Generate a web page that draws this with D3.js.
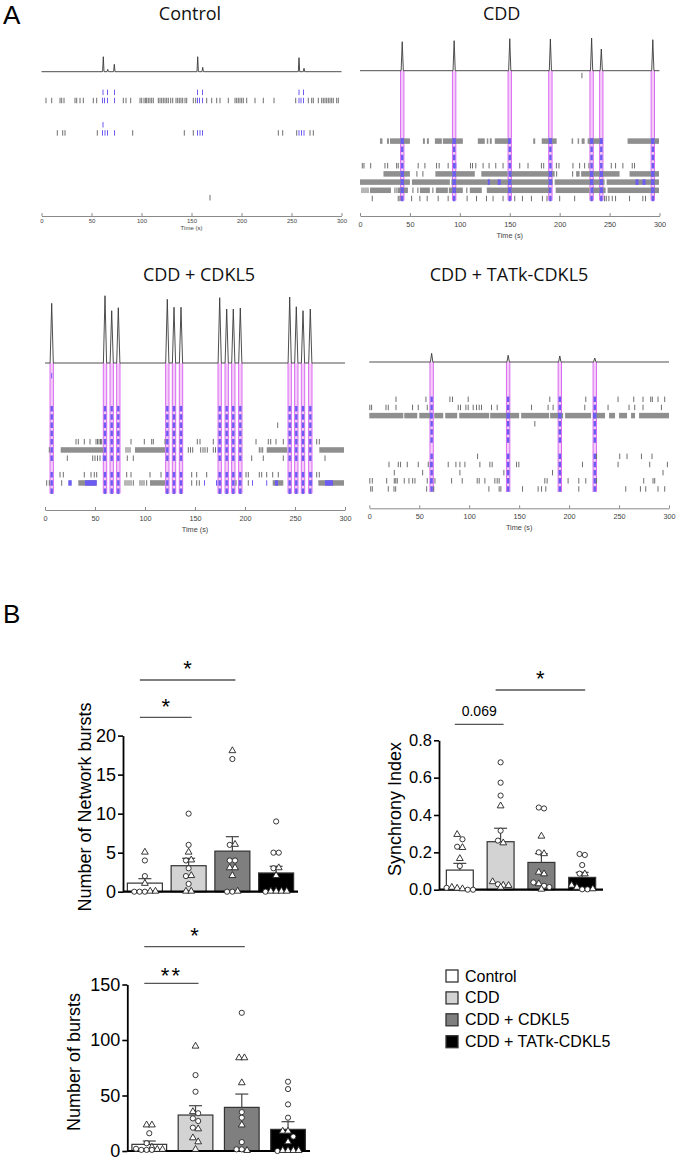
<!DOCTYPE html>
<html>
<head>
<meta charset="utf-8">
<script src="https://cdn.jsdelivr.net/npm/d3@7"></script>
<style>
  body { margin: 0; background: #fff; }
  svg { display: block; }
</style>
</head>
<body>
<svg id="fig" width="676" height="1160"></svg>
<script>
// ================================
// Data
// ================================
const groups = ['Control', 'CDD', 'CDD + CDKL5', 'CDD + TATk-CDKL5'];

// Panel A: network trace peaks [time (s), amplitude], spike rows, dense runs [row, t0, t1]
const ctrlPeaks = [[61.8, 0.214], [66.2, 0.034], [72.8, 0.106], [156.2, 0.214], [161.2, 0.063], [257.5, 0.2], [262.5, 0.049]];
const ctrlBurstWin = [[60, 67.5], [72, 74], [155, 162.5], [256.5, 263.5]];
const ctrlSpikes = [
  [61.5, 66, 73, 156, 161, 257.5, 262],
  [4.5, 10.2, 18.5, 20.2, 22.5, 33.5, 35.2, 38.5, 41.8, 51.8, 55.2, 61, 63, 66, 73, 81.8, 84.5, 89.2,
   98.5, 100.2, 102.5, 104.2, 105.2, 106.8, 108.5, 110.2, 111.8, 116.8, 118.5, 120.2, 121.8, 123.5,
   125.2, 126.8, 129.2, 131.2, 134.5, 136.2, 137.8, 139.5, 141.2, 143.5, 145.2, 151.8, 154.2, 156,
   158, 161, 165.2, 170.2, 175.2, 178.5, 186.8, 193.5, 195.2, 196.8, 198.5, 200.2, 201.8, 205.2,
   213.5, 221.8, 232.5, 254.2, 257.5, 259.5, 262, 266.8, 270.2, 271.8, 276.8, 280.2, 281.8, 283.5,
   285.2, 286.8, 288.5, 290.2, 291.8, 295.2, 296.8],
  [], [],
  [61.5],
  [15.8, 21.2, 23.5, 55.8, 61, 63.5, 66, 73, 91.2, 142.8, 151.8, 156, 158.5, 161, 236.8, 241.2,
   255.2, 257.5, 260, 262.5, 268.5, 271.8],
  [], [], [], [], [], [], [],
  [168.5]
];

const cddPeaks = [[42.3, 0.414], [94.3, 0.429], [150, 0.457], [190.7, 0.453], [232, 0.467], [241.7, 0.31], [293.3, 0.443]];
const cddBurstRows = [8, 9, 10, 11, 12, 13, 14, 15];
const cddSpikes = [
  [222.3], [], [], [], [], [], [], [], [], [], [],
  [2.3, 4, 10.7, 25, 27.7, 36.7, 38.3, 58.3, 65, 76.7, 79.3, 88.3, 96, 110.7, 112.7, 116, 123.3, 129.3,
   136, 143.3, 160, 168.3, 181.7, 184, 196.7, 199.3, 213.3, 220, 225, 229.3, 251.7, 256, 263.3, 272.7, 275],
  [57, 63, 197, 213],
  [],
  [2, 4, 6, 8, 35, 37, 53, 58, 73, 107],
  [12.3, 38.3, 40, 51.7, 60, 67.3, 78.3, 88.3, 107.3, 116.7, 126.7, 133.3, 143.3, 155, 162.7, 171.7,
   182.7, 187.3, 200, 215, 245, 246.7, 249.3, 252.7, 256, 270, 283.3, 286]
];
const cddDense = [
  [8, 20, 22.5], [8, 27, 29], [8, 30, 50], [8, 63, 65], [8, 67, 69], [8, 75, 82], [8, 83, 103],
  [8, 118, 125], [8, 127, 128.5], [8, 130, 132], [8, 135, 150], [8, 173.5, 175.5], [8, 182, 197],
  [8, 212, 213.5], [8, 218, 219.5], [8, 222, 225], [8, 228, 243], [8, 268, 299.5],
  [12, 23.5, 50], [12, 75.5, 93], [12, 95, 115], [12, 121.5, 148], [12, 150, 195], [12, 216.5, 220],
  [12, 221.5, 260], [12, 270, 299.5],
  [13, 0, 50], [13, 52, 90], [13, 91.5, 193], [13, 195, 245], [13, 247, 299.5],
  [14, 10, 31], [14, 38, 48], [14, 60, 70], [14, 76, 88], [14, 89, 103], [14, 110, 122],
  [14, 127, 190], [14, 196, 230], [14, 232, 246], [14, 248, 299.5]
];
const cddBlueRuns = [[13, 128, 130], [13, 138, 141], [13, 276, 279], [13, 283, 286]];

const cdkl5Peaks = [[6.7, 0.853], [60, 0.961], [66.7, 0.747], [73.3, 0.79], [122.3, 0.91], [129, 0.796],
  [136, 0.796], [174.7, 0.933], [181.7, 0.771], [188.3, 0.771], [195.3, 0.786], [244.7, 0.943],
  [251.3, 0.804], [258, 0.747], [265.3, 0.771]];
const cdkl5BurstRows = [4, 5, 6, 7, 8, 9, 10, 12, 13, 14];
const cdkl5Spikes = [
  [6.7], [], [], [], [], [],
  [232.7],
  [],
  [31, 33.3, 39.3, 45, 51, 52.5, 54, 55.5, 56.7, 86, 99.3, 106.7, 108.3, 120, 152.3, 155, 168.3, 211,
   223.3, 225.7, 231, 238.3, 271.7, 274.3],
  [4.3, 81, 83, 85, 143.3, 145.5, 147.7, 155.7, 158, 160, 162.3, 168.3, 170.5, 173.3, 214.3, 216, 217.7],
  [22.3, 47.7, 50, 52.5, 55, 58.3, 82.3, 88.3, 206.7, 218.3, 238.3, 280],
  [],
  [15, 18.3, 39.3, 46, 49.3, 51.7, 81.7, 86, 105, 116, 146.7, 151.7, 161.7, 201, 203.3, 214.3, 216.7,
   221.7, 227.7, 233.3, 266.7, 271.7, 274.3],
  [1.7, 4.3, 16.7, 80, 82, 84, 86, 88.3, 95, 97, 99, 101.7, 146.7, 151.7, 154.3, 191, 194.3, 203.3, 266.7],
  []
];
const cdkl5Dense = [[9, 15.7, 58.3], [9, 90, 120], [9, 221.7, 242.3], [9, 274.3, 299],
  [13, 33.3, 51.7], [13, 105, 120], [13, 227.7, 238.3], [13, 273.3, 299]];
const cdkl5BlueRuns = [[13, 23.3, 26.7], [13, 40, 51.7], [13, 159, 160], [13, 171, 172.3], [13, 207, 208],
  [13, 221.2, 222.2], [13, 230, 233], [13, 280, 288]];

const tatkPeaks = [[62.4, 0.124], [139, 0.096], [190.7, 0.086], [225.7, 0.057]];
const tatkBurstRows = [0, 1, 2, 3, 4, 5, 7, 8, 9, 10, 11];
const tatkSpikes = [
  [26.7, 56.7, 80.7, 83.3, 99, 180.7, 216.7, 249, 264.7, 274, 281.7, 283.3, 289, 295.7],
  [0.5, 2.3, 16.7, 19, 26.7, 43.3, 49, 58, 89, 91.3, 96.7, 99, 104, 107.3, 110, 112.3, 122.3, 128,
   162.4, 179, 184, 215.7, 239, 260, 265.7, 274, 292.4],
  [],
  [165.7],
  [], [], [],
  [108.4, 227.5, 250.7, 258, 272.4, 283],
  [19.7, 29, 31.3, 38, 49, 59, 61.4, 79, 86.7, 90.7, 95.7, 110.7, 120.7, 123, 147.4, 149.7, 213.4,
   249, 280.7, 298.4],
  [25, 53.4, 90.7, 134.7, 183.4, 294],
  [0.5, 3, 17.4, 25, 26.5, 28, 35, 39.7, 43.4, 45.7, 58, 61.4, 65.7, 82.4, 93, 108, 110, 115.7, 125.7,
   128, 130, 175.7, 178, 199, 209.7, 216.7, 227.5, 274.7, 284, 285.7],
  [1.4, 3, 19, 24.7, 26.4, 57.4, 64.5, 119.7, 130, 131.7, 153.4, 169, 172.4, 176.7, 209.7, 256.7,
   271.4, 276.7, 289, 295.7]
];
const tatkDense = [[2, 0, 34], [2, 35, 48], [2, 50, 63], [2, 65, 74], [2, 76, 88], [2, 90, 120],
  [2, 121, 150], [2, 152, 180], [2, 181, 194], [2, 196, 222], [2, 224, 236], [2, 240, 246],
  [2, 250, 258], [2, 262, 266], [2, 270, 300]];

// Panel B: means, SEMs and individual points (circles / triangles)
const netMean = [1.1, 3.33, 5.2, 2.4];
const netSem = [0.57, 0.95, 1.85, 0.86];
const netCircles = [[4, 2, 0, 0, 0], [10, 6, 4, 3, 2, 1], [17, 6, 4, 4, 0, 0], [9, 5, 5, 3, 0]];
const netTriangles = [[5, 1, 0, 0], [5, 4, 2, 0, 0], [18, 6, 3, 3, 2, 0], [3, 2, 0, 0, 0, 0]];
const netTicks = [0, 5, 10, 15, 20];
const netSig = [[0, 1, '*'], [0, 2, '*']];

const syncMean = [0.105, 0.257, 0.146, 0.066];
const syncSem = [0.036, 0.072, 0.047, 0.027];
const syncCircles = [[0.27, 0.23, 0.127, 0.01, 0.0, 0.0], [0.682, 0.573, 0.504, 0.316, 0.263, 0.029],
  [0.44, 0.435, 0.2, 0.039, 0.021, 0.014], [0.191, 0.186, 0.132, 0.086, 0.002, 0.002]];
const syncTriangles = [[0.293, 0.223, 0.164, 0.005, 0.002, 0.01], [0.446, 0.248, 0.04, 0.021, 0.02, 0.01],
  [0.284, 0.19, 0.082, 0.091, 0.029, 0.0], [0.082, 0.021, 0.01, 0.002]];
const syncTicks = [0, 0.2, 0.4, 0.6, 0.8];
const syncSig = [[0, 1, '0.069'], [1, 3, '*']];

const burstMean = [6, 32.4, 39.3, 19.5];
const burstSem = [3, 8.4, 12, 6.9];
const burstCircles = [[16, 7, 1, 1, 1, 2], [68.4, 53.4, 34, 27, 29.4, 21], [124.5, 35, 30, 8, 1.5, 1.5],
  [62.4, 55.8, 42, 30, 13, 0]];
const burstTriangles = [[23, 23, 1, 1, 3], [94, 35, 19.5, 11.4, 7.8, 1], [83.5, 83.5, 61, 23, 0],
  [17.4, 17.4, 7.8, 0, 0, 0, 0]];
const burstTicks = [0, 50, 100, 150];
const burstSig = [[0, 1, '**'], [0, 2, '*']];

// ================================
// Setup
// ================================
const svg = d3.select('#fig');
const ARIAL = "'Liberation Sans', Arial, sans-serif";
const TITLE_FONT = "'Open Sans', 'Noto Sans', sans-serif";
const BAND = 1.7;       // half width of burst band (s)
const TICK_H = 5.5;
const GRAY = '#6e6e6e', DENSE = '#8f8f8f', BLUE = '#6c5cf2', PINK = '#f5ccf8', MAGENTA = '#d65ef2';
const groupFill = ['#ffffff', '#d3d3d3', '#7f7f7f', '#000000'];

// panel letters
svg.append('text').attr('x', 3).attr('y', 24).attr('font-family', ARIAL)
  .attr('font-size', 26).text('A');
svg.append('text').attr('x', 3).attr('y', 623).attr('font-family', ARIAL)
  .attr('font-size', 26).text('B');

// ================================
// Raster panels
// ================================
function drawRaster(p) {
  const x = d3.scaleLinear().domain([0, 300]).range([p.x0, p.x1]);
  const rowY = d3.scaleLinear().domain([0, 1]).range([p.y0, p.y0 + p.dy]);
  const amp = d3.scaleLinear().domain([0, 1]).range([p.base, p.base - 70]);
  const wins = p.windows || p.peaks.map(d => [d[0] - BAND, d[0] + BAND]);
  const inBurst = t => wins.some(w => t >= w[0] && t <= w[1]);
  const g = svg.append('g');

  // pink burst bands
  if (p.bandBottom) {
    const b = g.append('g').selectAll('g').data(p.peaks).join('g');
    b.append('rect')
      .attr('x', d => x(d[0] - BAND))
      .attr('width', d => x(d[0] + BAND) - x(d[0] - BAND))
      .attr('y', p.base)
      .attr('height', p.bandBottom - p.base)
      .attr('fill', PINK);
    [-BAND, BAND].forEach(off => {
      b.append('line')
        .attr('x1', d => x(d[0] + off)).attr('x2', d => x(d[0] + off))
        .attr('y1', p.base).attr('y2', p.bandBottom)
        .attr('stroke', MAGENTA).attr('stroke-width', 0.9);
    });
  }

  // dense spike runs
  const dense = p.dense || [];
  g.append('g').selectAll('rect').data(dense).join('rect')
    .attr('x', d => x(d[1]))
    .attr('width', d => x(d[2]) - x(d[1]))
    .attr('y', d => rowY(d[0]) - TICK_H / 2)
    .attr('height', TICK_H)
    .attr('fill', DENSE);

  // blue parts of dense runs (overlap with bursts + extra runs)
  const blue = [];
  dense.forEach(d => wins.forEach(w => {
    const a = Math.max(d[1], w[0]), e = Math.min(d[2], w[1]);
    if (e > a) blue.push([d[0], a, e]);
  }));
  (p.blueRuns || []).forEach(d => blue.push(d));
  g.append('g').selectAll('rect').data(blue).join('rect')
    .attr('x', d => x(d[1]))
    .attr('width', d => Math.max(1, x(d[2]) - x(d[1])))
    .attr('y', d => rowY(d[0]) - TICK_H / 2)
    .attr('height', TICK_H)
    .attr('fill', BLUE);

  // single spikes
  const spikes = p.spikes.flatMap((ts, i) => ts.map(t => ({ t, i })));
  g.append('g').selectAll('line').data(spikes).join('line')
    .attr('x1', d => x(d.t)).attr('x2', d => x(d.t))
    .attr('y1', d => rowY(d.i) - TICK_H / 2)
    .attr('y2', d => rowY(d.i) + TICK_H / 2)
    .attr('stroke', d => inBurst(d.t) ? BLUE : GRAY)
    .attr('stroke-width', 1);

  // channels taking part in each network burst
  const part = (p.burstRows || []).flatMap(i => p.peaks.map(d => ({ t: d[0], i })));
  g.append('g').selectAll('rect').data(part).join('rect')
    .attr('x', d => x(d.t) - 1.2)
    .attr('width', 2.4)
    .attr('y', d => rowY(d.i) - TICK_H / 2)
    .attr('height', TICK_H)
    .attr('fill', BLUE);

  // population trace
  const pts = [[0, 0]];
  p.peaks.slice().sort((a, b) => a[0] - b[0])
    .forEach(([t, a]) => pts.push([t - p.hw, 0], [t, a], [t + p.hw, 0]));
  pts.push([300, 0]);
  g.append('path')
    .datum(pts)
    .attr('fill', 'none')
    .attr('stroke', '#3a3a3a')
    .attr('stroke-width', 0.9)
    .attr('d', d3.line().x(d => x(d[0])).y(d => amp(d[1])));

  // time axis
  const ax = g.append('g')
    .attr('transform', `translate(0,${p.axisY})`)
    .call(d3.axisBottom(x).tickValues(d3.range(0, 301, 50)).tickSize(-3).tickSizeOuter(0));
  ax.select('.domain').attr('stroke', '#8a8a8a');
  ax.selectAll('.tick line').attr('stroke', '#8a8a8a');
  ax.selectAll('.tick text')
    .attr('y', p.lblY).attr('dy', 0)
    .attr('font-size', p.fs)
    .attr('font-family', ARIAL)
    .attr('fill', '#444');
  g.append('text')
    .attr('x', (p.x0 + p.x1) / 2)
    .attr('y', p.axisY + p.timeY)
    .attr('text-anchor', 'middle')
    .attr('font-family', ARIAL)
    .attr('font-size', p.fs)
    .attr('fill', '#444')
    .text('Time (s)');

  // title
  g.append('text')
    .attr('x', p.tx).attr('y', p.ty)
    .attr('text-anchor', 'middle')
    .attr('font-family', TITLE_FONT)
    .attr('font-size', 18)
    .attr('fill', '#111')
    .text(p.title);
}

drawRaster({ title: groups[0], tx: 190, ty: 19.5, x0: 41.5, x1: 341.5, base: 71.7, y0: 92.4, dy: 8.1,
  axisY: 216, lblY: 6.5, timeY: 14, fs: 6, hw: 0.7,
  peaks: ctrlPeaks, windows: ctrlBurstWin, spikes: ctrlSpikes });
drawRaster({ title: groups[1], tx: 501.7, ty: 19.5, x0: 360, x1: 659.5, base: 70.7, y0: 75.5, dy: 8.2,
  axisY: 216, lblY: 11, timeY: 22, fs: 7.3, hw: 1.1, bandBottom: 200.5,
  peaks: cddPeaks, spikes: cddSpikes, dense: cddDense, blueRuns: cddBlueRuns, burstRows: cddBurstRows });
drawRaster({ title: groups[2], tx: 199, ty: 280.5, x0: 45, x1: 345, base: 363, y0: 375.7, dy: 8.25,
  axisY: 510, lblY: 11, timeY: 22, fs: 7.3, hw: 1.6, bandBottom: 493.5,
  peaks: cdkl5Peaks, spikes: cdkl5Spikes, dense: cdkl5Dense, blueRuns: cdkl5BlueRuns, burstRows: cdkl5BurstRows });
drawRaster({ title: groups[3], tx: 509, ty: 280.5, x0: 369.3, x1: 669, base: 362, y0: 399.3, dy: 8.15,
  axisY: 508.3, lblY: 11, timeY: 22, fs: 7.3, hw: 1.2, bandBottom: 492,
  peaks: tatkPeaks, spikes: tatkSpikes, dense: tatkDense, burstRows: tatkBurstRows });

// ================================
// Bar charts with individual points
// ================================
function drawBars(c) {
  const x = d3.scaleBand().domain(d3.range(4)).range([c.xl, c.xr])
    .paddingInner(c.pi).paddingOuter(c.po);
  const y = d3.scaleLinear().domain([0, c.max]).range([c.y0, c.yTop]);
  const cx = i => x(i) + x.bandwidth() / 2;
  const g = svg.append('g');

  // bars
  g.selectAll('rect.bar').data(c.mean).join('rect')
    .attr('x', (d, i) => x(i))
    .attr('width', x.bandwidth())
    .attr('y', d => y(d))
    .attr('height', d => c.y0 - y(d))
    .attr('fill', (d, i) => groupFill[i])
    .attr('stroke', '#333')
    .attr('stroke-width', 1.2);

  // one-sided SEM error bars
  c.mean.forEach((m, i) => {
    const top = y(m + c.sem[i]);
    g.append('line').attr('x1', cx(i)).attr('x2', cx(i)).attr('y1', y(m)).attr('y2', top)
      .attr('stroke', '#444').attr('stroke-width', 1.2);
    g.append('line').attr('x1', cx(i) - 6.5).attr('x2', cx(i) + 6.5).attr('y1', top).attr('y2', top)
      .attr('stroke', '#444').attr('stroke-width', 1.2);
  });

  // x baseline
  g.append('line').attr('x1', c.xl).attr('x2', c.xr).attr('y1', c.y0).attr('y2', c.y0)
    .attr('stroke', '#000').attr('stroke-width', 2.2);

  // points: spread horizontally where values overlap
  const tri = d3.symbol().type(d3.symbolTriangle).size(20);
  c.circles.forEach((circ, i) => {
    const pts = circ.map(v => ({ v, s: 'c' })).concat(c.triangles[i].map(v => ({ v, s: 't' })));
    pts.sort((a, b) => b.v - a.v);
    const clusters = [];
    pts.forEach(p => {
      const py = y(p.v);
      const last = clusters[clusters.length - 1];
      if (last && Math.abs(py - last.y) < 5) last.items.push(p);
      else clusters.push({ y: py, items: [p] });
    });
    clusters.forEach(cl => cl.items.forEach((p, k) => {
      p.px = cx(i) + (k - (cl.items.length - 1) / 2) * 5.3;
    }));
    pts.forEach(p => {
      if (p.s === 'c') {
        g.append('circle').attr('cx', p.px).attr('cy', y(p.v)).attr('r', 2.6)
          .attr('fill', '#fff').attr('stroke', '#222').attr('stroke-width', 0.9);
      } else {
        g.append('path').attr('d', tri).attr('transform', `translate(${p.px},${y(p.v) - 0.5})`)
          .attr('fill', '#fff').attr('stroke', '#222').attr('stroke-width', 0.9);
      }
    });
  });

  // y axis
  const ay = g.append('g')
    .attr('transform', `translate(${c.xl},0)`)
    .call(d3.axisLeft(y).tickValues(c.ticks).tickSize(5).tickPadding(2)
      .tickSizeOuter(0).tickFormat(c.fmt));
  ay.select('.domain').attr('stroke', '#000').attr('stroke-width', 1.8);
  ay.selectAll('.tick line').attr('stroke', '#000').attr('stroke-width', 1.6);
  ay.selectAll('.tick text').attr('font-size', c.fs).attr('font-family', ARIAL).attr('fill', '#000');

  g.append('text')
    .attr('transform', `translate(${c.lx},${c.ly}) rotate(-90)`)
    .attr('dy', '0.35em')
    .attr('text-anchor', 'middle')
    .attr('font-family', ARIAL)
    .attr('font-size', 18)
    .text(c.label);

  // significance brackets
  c.sig.forEach(([a, b, lab], k) => {
    const ly = c.sigY[k];
    const x1 = cx(a) - 5, x2 = cx(b) + 3;
    g.append('line').attr('x1', x1).attr('x2', x2).attr('y1', ly).attr('y2', ly)
      .attr('stroke', '#555').attr('stroke-width', 1.3);
    const isStar = lab.startsWith('*');
    g.append('text')
      .attr('x', (x1 + x2) / 2)
      .attr('y', lab === '**' ? ly - 0.5 : (isStar ? ly - 3.7 : ly - 8))
      .attr('text-anchor', 'middle')
      .attr('font-family', ARIAL)
      .attr('font-size', isStar ? 22 : 14)
      .attr('letter-spacing', lab === '**' ? 2 : 0)
      .text(lab);
  });
}

drawBars({ xl: 123, xr: 298, y0: 891.7, yTop: 735.6, max: 20, ticks: netTicks, fmt: d3.format('d'), fs: 18,
  pi: 0.2, po: 0.1, mean: netMean, sem: netSem, circles: netCircles, triangles: netTriangles,
  label: 'Number of Network bursts', lx: 85, ly: 807, sig: netSig, sigY: [717.3, 680] });
drawBars({ xl: 439, xr: 603, y0: 889.7, yTop: 740.3, max: 0.8, ticks: syncTicks, fmt: d3.format('.1f'), fs: 16.5,
  pi: 0.34, po: 0.18, mean: syncMean, sem: syncSem, circles: syncCircles, triangles: syncTriangles,
  label: 'Synchrony Index', lx: 395, ly: 809, sig: syncSig, sigY: [724.3, 690] });
drawBars({ xl: 127.3, xr: 310, y0: 1151, yTop: 984.5, max: 150, ticks: burstTicks, fmt: d3.format('d'), fs: 18,
  pi: 0.25, po: 0.1, mean: burstMean, sem: burstSem, circles: burstCircles, triangles: burstTriangles,
  label: 'Number of bursts', lx: 73.3, ly: 1062, sig: burstSig, sigY: [983.3, 946.7] });

// ================================
// Legend
// ================================
const legY = d3.scaleLinear().domain([0, 1]).range([976, 997.9]);
groups.forEach((name, i) => {
  svg.append('rect')
    .attr('x', 446).attr('y', legY(i) - 6)
    .attr('width', 12).attr('height', 12)
    .attr('fill', groupFill[i])
    .attr('stroke', '#333').attr('stroke-width', 1.3);
  svg.append('text')
    .attr('x', 465).attr('y', legY(i) + 5.5)
    .attr('font-family', ARIAL)
    .attr('font-size', 16)
    .text(name);
});
</script>
</body>
</html>
